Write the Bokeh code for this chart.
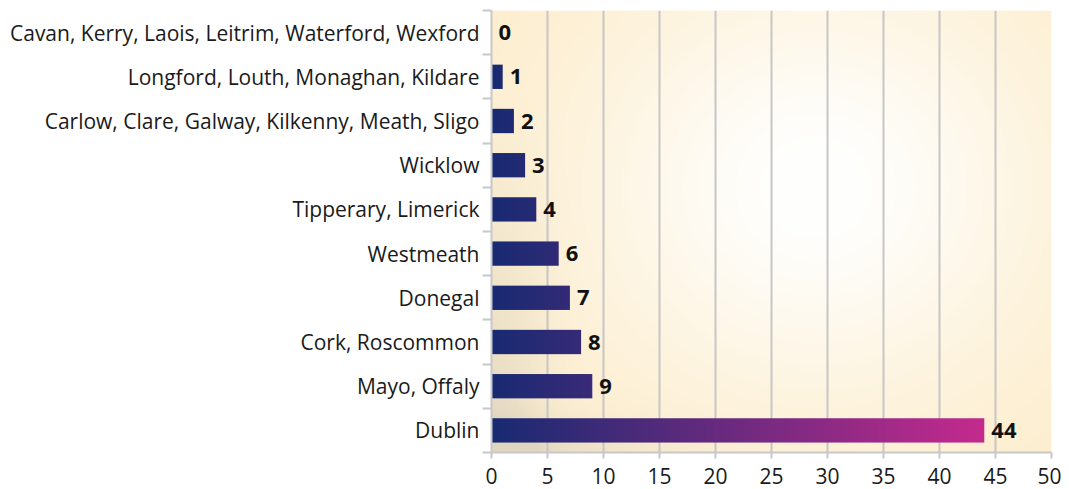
import numpy as np
from bokeh.plotting import figure
from bokeh.models import FixedTicker, Range1d
from bokeh.core.properties import value
from bokeh.embed import file_html
from bokeh.resources import INLINE

# ---- data (bottom to top) ----
counties = [
    "Dublin",
    "Mayo, Offaly",
    "Cork, Roscommon",
    "Donegal",
    "Westmeath",
    "Tipperary, Limerick",
    "Wicklow",
    "Carlow, Clare, Galway, Kilkenny, Meath, Sligo",
    "Longford, Louth, Monaghan, Kildare",
    "Cavan, Kerry, Laois, Leitrim, Waterford, Wexford",
]
counts = [44, 9, 8, 7, 6, 4, 3, 2, 1, 0]
x_ticks = [0, 5, 10, 15, 20, 25, 30, 35, 40, 45, 50]

X_MAX = 50
BAR_H = 0.55
C0 = np.array([24, 42, 114], dtype=float)   # colour at x = 0
C1 = np.array([197, 42, 142], dtype=float)  # colour at x = 44
GRAD_END = 44.0

ys = list(range(len(counties)))

p = figure(width=1061, height=489, output_backend="svg", toolbar_location=None,
           x_range=Range1d(0, X_MAX), y_range=Range1d(-0.5, len(counties) - 0.5),
           min_border_left=491, min_border_right=10, min_border_top=10,
           min_border_bottom=37)
p.outline_line_color = None
p.background_fill_color = "white"
p.border_fill_color = "white"

# ---- background gradient of the plot area ----
H, W = 120, 250
vv, uu = np.meshgrid(np.linspace(0, 1, H), np.linspace(0, 1, W), indexing="ij")
cream = np.array([253, 237, 204], dtype=float)
white = np.array([255, 255, 254], dtype=float)
t = np.exp(-(((uu - 0.58) / 0.42) ** 2 + ((vv - 0.60) / 0.50) ** 2))
col = cream[None, None, :] + (white - cream)[None, None, :] * t[..., None]
shadow_col = np.array([212, 204, 186], dtype=float)
s = 0.55 * np.exp(-(uu / 0.09) ** 2) * np.clip(1.05 - vv * 1.3, 0, 1)
s += 0.45 * np.exp(-(vv / 0.07) ** 2) * np.exp(-(uu / 0.30) ** 2)
s = np.clip(s, 0, 0.7)
col = col * (1 - s[..., None]) + shadow_col[None, None, :] * s[..., None]
bg = np.empty((H, W), dtype=np.uint32)
bv = bg.view(dtype=np.uint8).reshape((H, W, 4))
bv[..., 0:3] = np.clip(col, 0, 255).astype(np.uint8)
bv[..., 3] = 255
bg_r = p.image_rgba(image=[bg], x=0, y=-0.5, dw=X_MAX, dh=len(counties))
bg_r.level = "image"

# ---- gradient bars ----
for yi, c in zip(ys, counts):
    if c <= 0:
        continue
    n = max(int(c * 12), 2)
    xs = (np.arange(n) + 0.5) / n * c
    f = np.clip(xs / GRAD_END, 0, 1)[:, None]
    rgb = C0[None, :] + (C1 - C0)[None, :] * f
    img = np.empty((1, n), dtype=np.uint32)
    iv = img.view(dtype=np.uint8).reshape((1, n, 4))
    iv[0, :, 0:3] = rgb.astype(np.uint8)
    iv[0, :, 3] = 255
    p.image_rgba(image=[img], x=0, y=yi - BAR_H / 2, dw=c, dh=BAR_H)

# ---- value labels ----
p.text(x=counts, y=ys, text=[str(c) for c in counts], x_offset=7,
       text_baseline="middle", text_align="left",
       text_font=value("Open Sans"), text_font_style="bold",
       text_font_size="22px", text_color="#111111")

# ---- axes ----
p.xaxis.ticker = FixedTicker(ticks=x_ticks)
p.xaxis.axis_line_color = "#c8c8c8"
p.xaxis.axis_line_width = 2
p.xaxis.major_tick_line_color = "#c8c8c8"
p.xaxis.major_tick_line_width = 2
p.xaxis.major_tick_out = 6
p.xaxis.major_tick_in = 0
p.xaxis.minor_tick_line_color = None
p.xaxis.major_label_text_font = "Open Sans"
p.xaxis.major_label_text_font_size = "21px"
p.xaxis.major_label_text_color = "#1a1a1a"
p.xaxis.major_label_standoff = 9

p.yaxis.ticker = FixedTicker(ticks=ys, minor_ticks=[y - 0.5 for y in ys] + [len(ys) - 0.5])
p.yaxis.major_label_overrides = {y: name for y, name in zip(ys, counties)}
p.yaxis.axis_line_color = "#c8c8c8"
p.yaxis.axis_line_width = 2
p.yaxis.major_tick_line_color = None
p.yaxis.major_tick_out = 0
p.yaxis.major_tick_in = 0
p.yaxis.minor_tick_line_color = "#c8c8c8"
p.yaxis.minor_tick_line_width = 2
p.yaxis.minor_tick_out = 9
p.yaxis.minor_tick_in = 0
p.yaxis.major_label_text_font = "Open Sans"
p.yaxis.major_label_text_font_size = "21px"
p.yaxis.major_label_text_color = "#1a1a1a"
p.yaxis.major_label_standoff = 3

# ---- grid ----
p.xgrid.ticker = FixedTicker(ticks=x_ticks)
p.xgrid.grid_line_color = "#c6c6c6"
p.xgrid.grid_line_width = 2
p.ygrid.grid_line_color = None

open("out.html", "w").write(file_html(p, INLINE))
